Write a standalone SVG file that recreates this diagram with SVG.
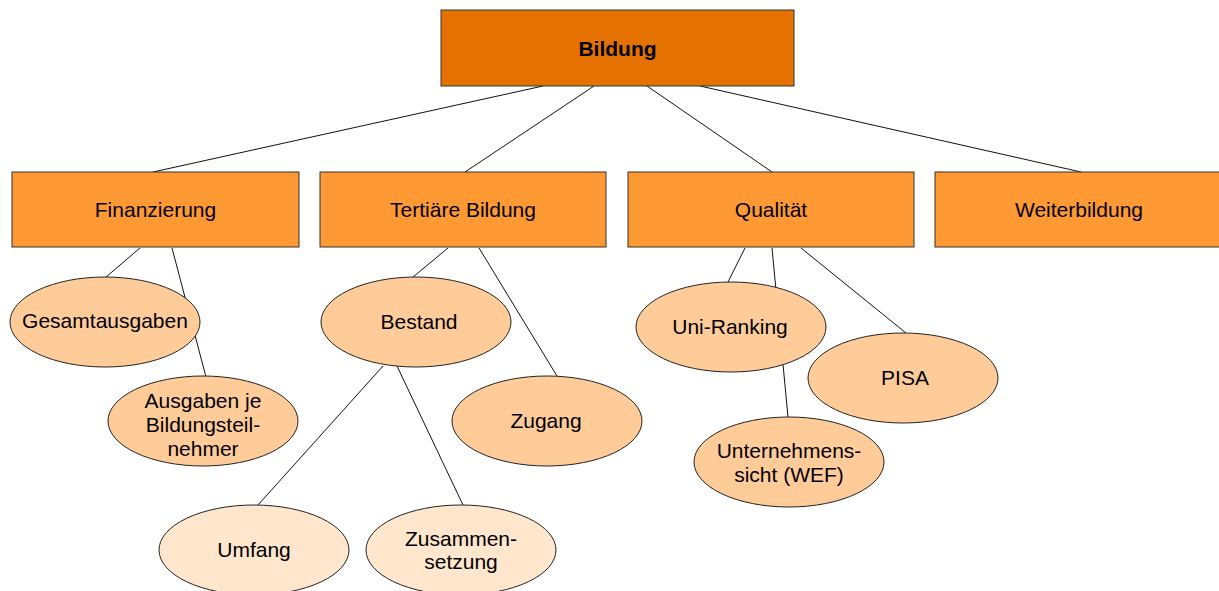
<svg xmlns="http://www.w3.org/2000/svg" width="1219" height="591" viewBox="0 0 1219 591">
<style>
text{font-family:"Liberation Sans",Arial,sans-serif;font-size:21px;fill:#000;text-anchor:middle}
.top{fill:#E57200;stroke:#333;stroke-width:1}
.l2{fill:#FF9933;stroke:#333;stroke-width:1}
.l3{fill:#FFCC99;stroke:#222;stroke-width:1}
.l4{fill:#FFE6CC;stroke:#222;stroke-width:1}
.c line{stroke:#111;stroke-width:1}
</style>
<rect width="1219" height="591" fill="#fff"/>
<g class="c" id="connectors">
<line x1="543" y1="86" x2="153" y2="172"/>
<line x1="594" y1="86" x2="465" y2="172"/>
<line x1="647" y1="86" x2="772" y2="172"/>
<line x1="700" y1="86" x2="1081" y2="172"/>
<line x1="140" y1="248" x2="106" y2="277"/>
<line x1="172" y1="248" x2="206" y2="377"/>
<line x1="448" y1="248" x2="413" y2="277"/>
<line x1="479" y1="248" x2="557" y2="376"/>
<line x1="383" y1="366" x2="258" y2="505"/>
<line x1="397" y1="366" x2="463" y2="505"/>
<line x1="745" y1="248" x2="728" y2="282"/>
<line x1="772" y1="248" x2="788" y2="417"/>
<line x1="801" y1="248" x2="906" y2="333"/>
</g>
<g id="bildung"><rect class="top" x="441" y="10" width="353" height="76"/><text x="617.5" y="56" font-weight="bold">Bildung</text></g>
<g id="finanzierung"><rect class="l2" x="12" y="172" width="287" height="75"/><text x="155.5" y="216.5">Finanzierung</text></g>
<g id="tertiaere"><rect class="l2" x="320" y="172" width="286" height="75"/><text x="463" y="216.5">Tertiäre Bildung</text></g>
<g id="qualitaet"><rect class="l2" x="628" y="172" width="286" height="75"/><text x="771" y="216.5">Qualität</text></g>
<g id="weiterbildung"><rect class="l2" x="935" y="172" width="288" height="75"/><text x="1079" y="216.5">Weiterbildung</text></g>
<g id="gesamtausgaben"><ellipse class="l3" cx="105" cy="322" rx="95" ry="45"/><text x="105" y="328">Gesamtausgaben</text></g>
<g id="ausgaben"><ellipse class="l3" cx="203" cy="421" rx="95" ry="45"/><text x="203" y="408">Ausgaben je</text><text x="203" y="432">Bildungsteil-</text><text x="203" y="456">nehmer</text></g>
<g id="bestand"><ellipse class="l3" cx="416" cy="322" rx="95" ry="45"/><text x="419" y="329">Bestand</text></g>
<g id="zugang"><ellipse class="l3" cx="547" cy="421" rx="95" ry="45"/><text x="546" y="428">Zugang</text></g>
<g id="umfang"><ellipse class="l4" cx="254" cy="550" rx="95" ry="45"/><text x="254" y="557">Umfang</text></g>
<g id="zusammensetzung"><ellipse class="l4" cx="461" cy="550" rx="95" ry="45"/><text x="461" y="546">Zusammen-</text><text x="461" y="569">setzung</text></g>
<g id="uniranking"><ellipse class="l3" cx="731" cy="327" rx="95" ry="45"/><text x="730" y="334">Uni-Ranking</text></g>
<g id="pisa"><ellipse class="l3" cx="903" cy="378" rx="95" ry="45"/><text x="905" y="385">PISA</text></g>
<g id="unternehmenssicht"><ellipse class="l3" cx="789" cy="462" rx="95" ry="45"/><text x="789" y="458">Unternehmens-</text><text x="789" y="482">sicht (WEF)</text></g>
</svg>
